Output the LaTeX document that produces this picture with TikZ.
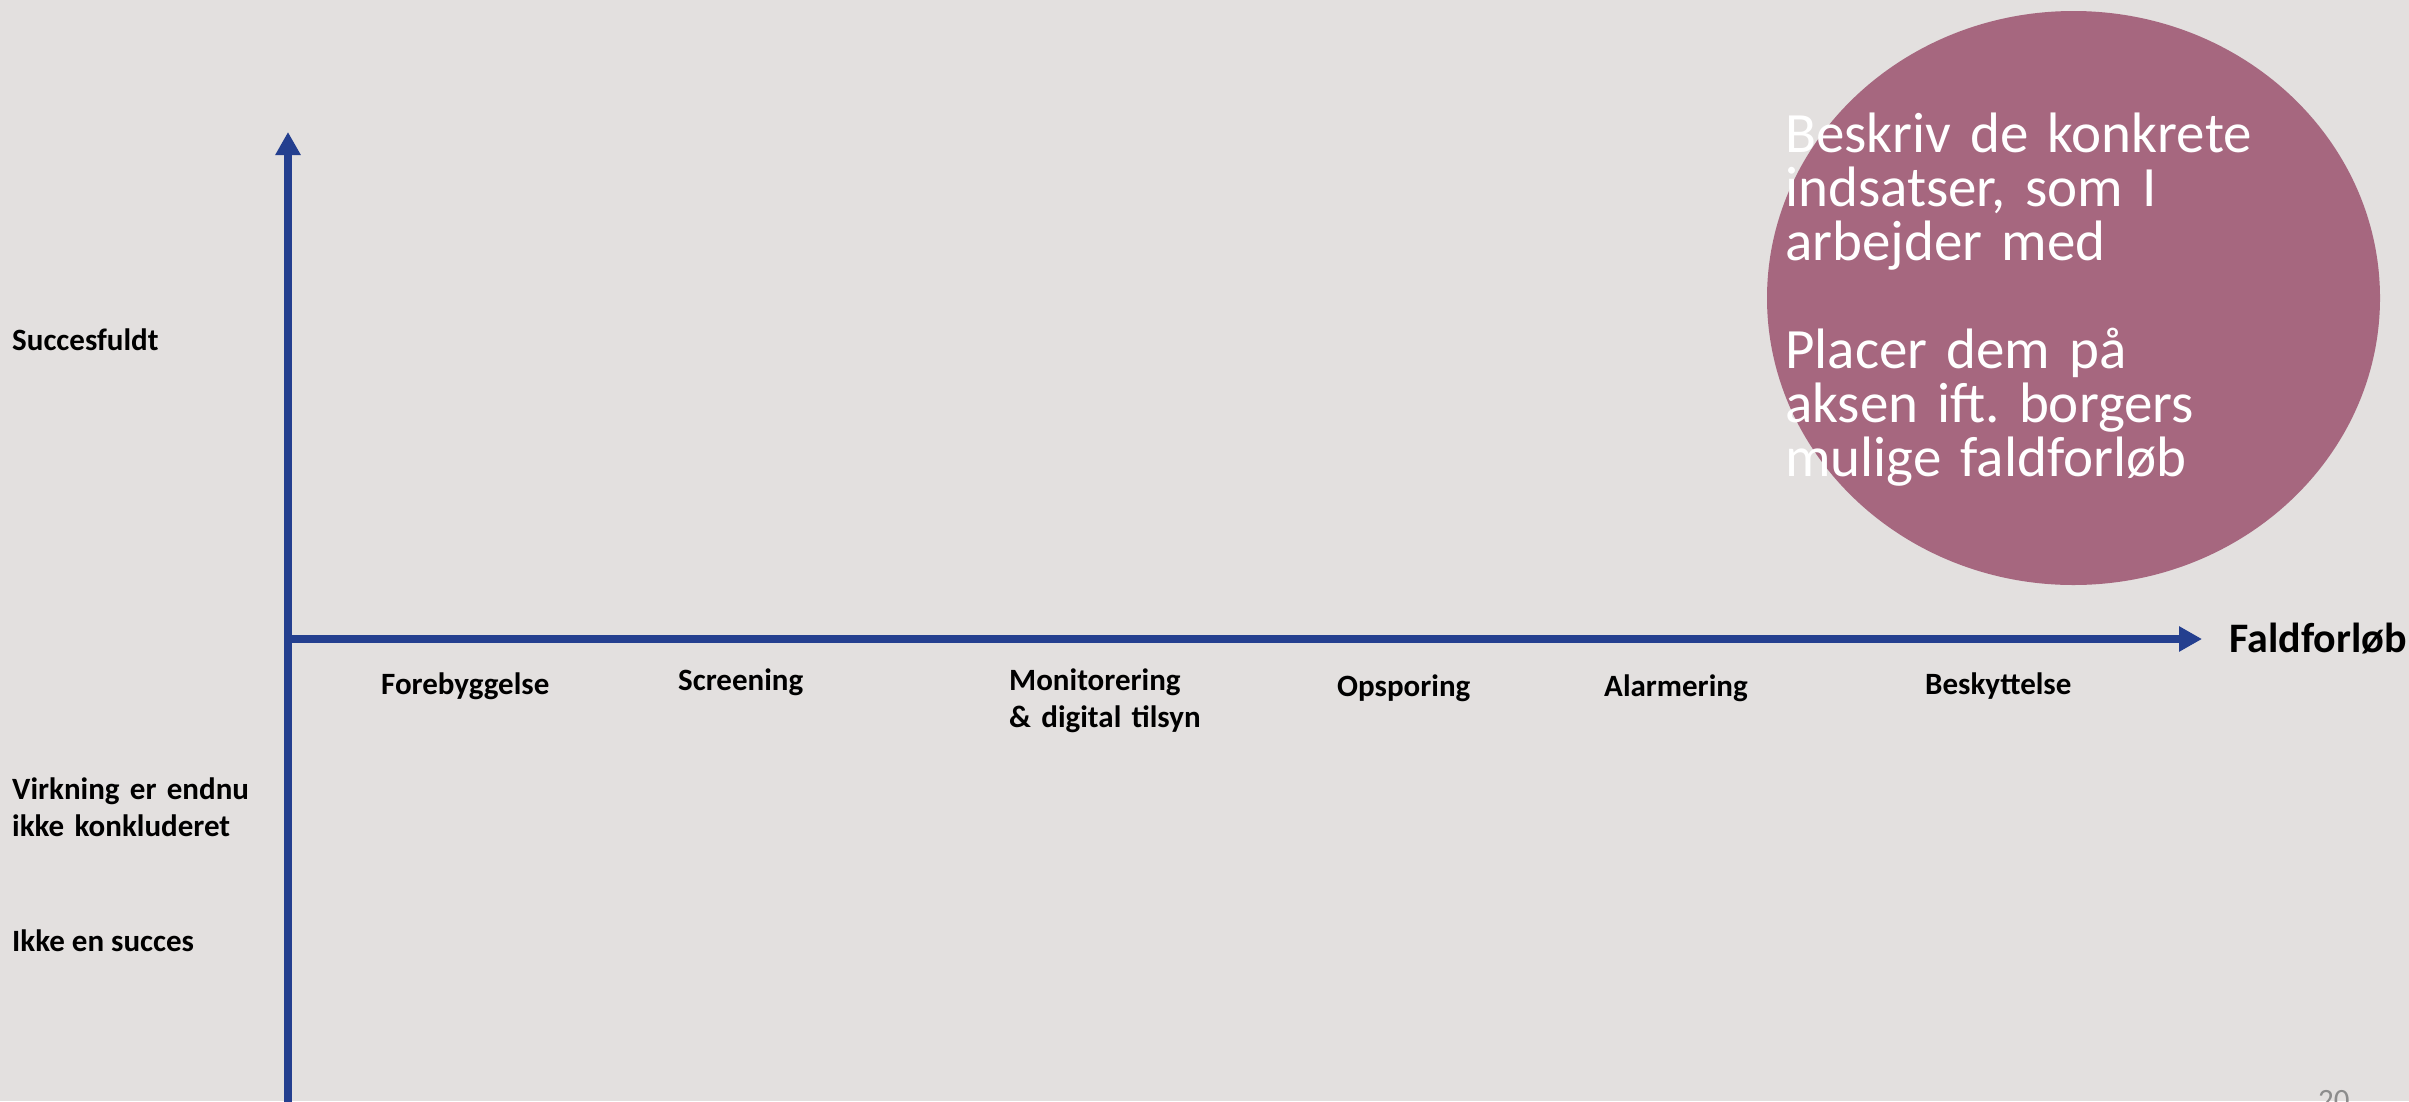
\documentclass[tikz,border=0pt]{standalone}
\usepackage{fontspec}
\setmainfont{Carlito}
\frenchspacing
\usetikzlibrary{arrows.meta,shapes.geometric}
\definecolor{bgcol}{HTML}{E3E0DF}
\definecolor{axiscol}{HTML}{243F8F}
\definecolor{notecol}{HTML}{A6677F}
\definecolor{pagecol}{HTML}{8C8C8C}
\tikzset{
  axisline/.style={draw=axiscol, line width=8pt, -{Triangle[width=24pt,length=23pt]}},
  lbl/.style={inner sep=0pt, anchor=base west, font=\fontsize{31}{37}\selectfont\bfseries, text=black},
  lbltwo/.style={lbl, text width=300pt, align=left},
  notetext/.style={inner sep=0pt, anchor=base west, text=white, text width=520pt, align=left, font=\fontsize{57}{54}\selectfont},
}
\begin{document}
\begin{tikzpicture}[x=1pt,y=-1pt]
\useasboundingbox (0,0) rectangle (2409,1101);
\fill[bgcol] (0,0) rectangle (2409,1101);
% circle note
\node[ellipse, fill=notecol, inner sep=0pt, minimum width=613pt, minimum height=574pt] (note) at (2073.5,298) {};
\node[notetext] (notetxt) at (1785,152) {Beskriv de konkrete\\indsatser, som I\\arbejder med\\[54pt]Placer dem på\\aksen ift. borgers\\mulige faldforløb};
% axes
\coordinate (ybot) at (288,1110);
\coordinate (ytop) at (288,132);
\coordinate (xstart) at (284,639);
\coordinate (xend) at (2202,639);
\draw[axisline] (ybot) -- (ytop);
\draw[axisline] (xstart) -- (xend);
% axis labels
\node[lbl, font=\fontsize{42}{50}\selectfont\bfseries] (fald) at (2229,652) {Faldforløb};
\node[lbl] (succ) at (12,350) {Succesfuldt};
\node[lbltwo] (virk) at (12,799) {Virkning er endnu\\ikke konkluderet};
\node[lbl] (ikke) at (12,951) {Ikke en succes};
\node[lbl] (fore) at (381,694) {Forebyggelse};
\node[lbl] (scr) at (678,690) {Screening};
\node[lbltwo] (mon) at (1009,690) {Monitorering\\\& digital tilsyn};
\node[lbl] (ops) at (1337,696) {Opsporing};
\node[lbl] (alar) at (1604,696) {Alarmering};
\node[lbl] (besk) at (1925,694) {Beskyttelse};
% page number
\node[inner sep=0pt, anchor=base west, text=pagecol, font=\fontsize{31}{37}\selectfont] (page) at (2318,1110) {20};
\end{tikzpicture}
\end{document}
